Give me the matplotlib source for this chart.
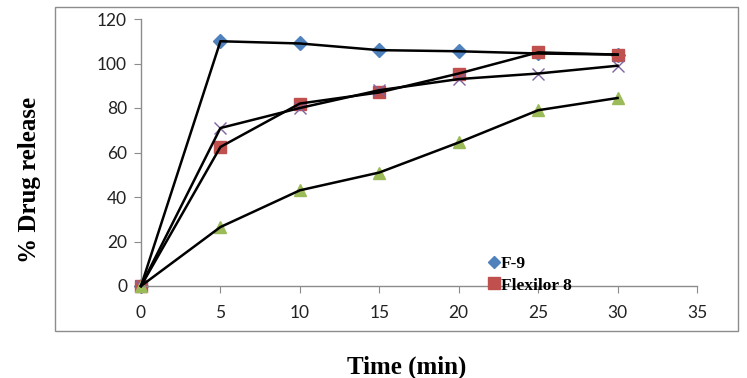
import matplotlib
matplotlib.use("Agg")
import matplotlib.pyplot as plt
from matplotlib.lines import Line2D
from matplotlib.patches import Rectangle

# 數據
time_min = [0, 5, 10, 15, 20, 25, 30]
f9 = [0, 110, 109, 106, 105.5, 104.5, 104]
flexilor8 = [0, 62.5, 82, 87, 95.5, 105, 104]
series_x = [0, 71, 80, 88, 93, 95.5, 99]
series_tri = [0, 26.5, 43, 51, 64.5, 79, 84.5]

x_ticks = [0, 5, 10, 15, 20, 25, 30, 35]
y_ticks = [0, 20, 40, 60, 80, 100, 120]

SERIF = ["Liberation Serif", "DejaVu Serif"]
TICK_FONT = ["Lato", "DejaVu Sans"]

fig = plt.figure(figsize=(7.47, 3.78), dpi=100)
ax = fig.add_axes([141 / 747, 1 - 286 / 378, (697 - 141) / 747, (286 - 19) / 378])

marker_specs = [
    (f9, "D", "#4F81BD", 7),
    (flexilor8, "s", "#C0504D", 9),
    (series_x, "x", "#8064A2", 9),
    (series_tri, "^", "#9BBB59", 9),
]
for ys, mk, col, ms in marker_specs:
    if mk == "x":
        ax.plot(time_min, ys, linestyle="none", marker=mk, color=col,
                markersize=ms, markeredgewidth=1.0, zorder=2, clip_on=False)
    else:
        ax.plot(time_min, ys, linestyle="none", marker=mk, color=col,
                markeredgecolor=col, markersize=ms, zorder=2, clip_on=False)
    ax.plot(time_min, ys, color="black", linewidth=1.8, zorder=3, clip_on=False)

ax.set_xlim(0, 35)
ax.set_ylim(0, 120)
ax.set_xticks(x_ticks)
ax.set_yticks(y_ticks)
for s in ["top", "right"]:
    ax.spines[s].set_visible(False)
for s in ["left", "bottom"]:
    ax.spines[s].set_color("#8c8c8c")
    ax.spines[s].set_linewidth(1.0)
ax.tick_params(direction="out", length=5, color="#8c8c8c", labelsize=12.5,
               labelcolor="#222222")
ax.tick_params(axis="y", pad=5)
ax.tick_params(axis="x", pad=9)
for lbl in ax.get_xticklabels() + ax.get_yticklabels():
    lbl.set_family(TICK_FONT)

fig.text(30 / 747, 1 - 180 / 378, "% Drug release", rotation=90,
         ha="center", va="center", family=SERIF, fontweight="bold", fontsize=18)
fig.text(407 / 747, 1 - 367 / 378, "Time (min)", ha="center", va="center",
         family=SERIF, fontweight="bold", fontsize=18)

# 外框
fig.patches.append(Rectangle((55 / 747, 1 - 331 / 378), (738 - 55) / 747,
                             (331 - 7) / 378, transform=fig.transFigure,
                             fill=False, edgecolor="#8c8c8c", linewidth=1.0))

handles = [
    Line2D([], [], linestyle="none", marker="D", color="#4F81BD", markersize=6),
    Line2D([], [], linestyle="none", marker="s", color="#C0504D", markersize=9),
]
fig.legend(handles, ["F-9", "Flexilor 8"], loc="upper left",
           bbox_to_anchor=(489 / 747, 1 - 256 / 378), frameon=False,
           handlelength=0.6, handletextpad=0.1, labelspacing=0.3,
           borderaxespad=0, borderpad=0,
           prop={"family": SERIF, "weight": "bold", "size": 12.5})

fig.savefig("out.png", dpi=100)
